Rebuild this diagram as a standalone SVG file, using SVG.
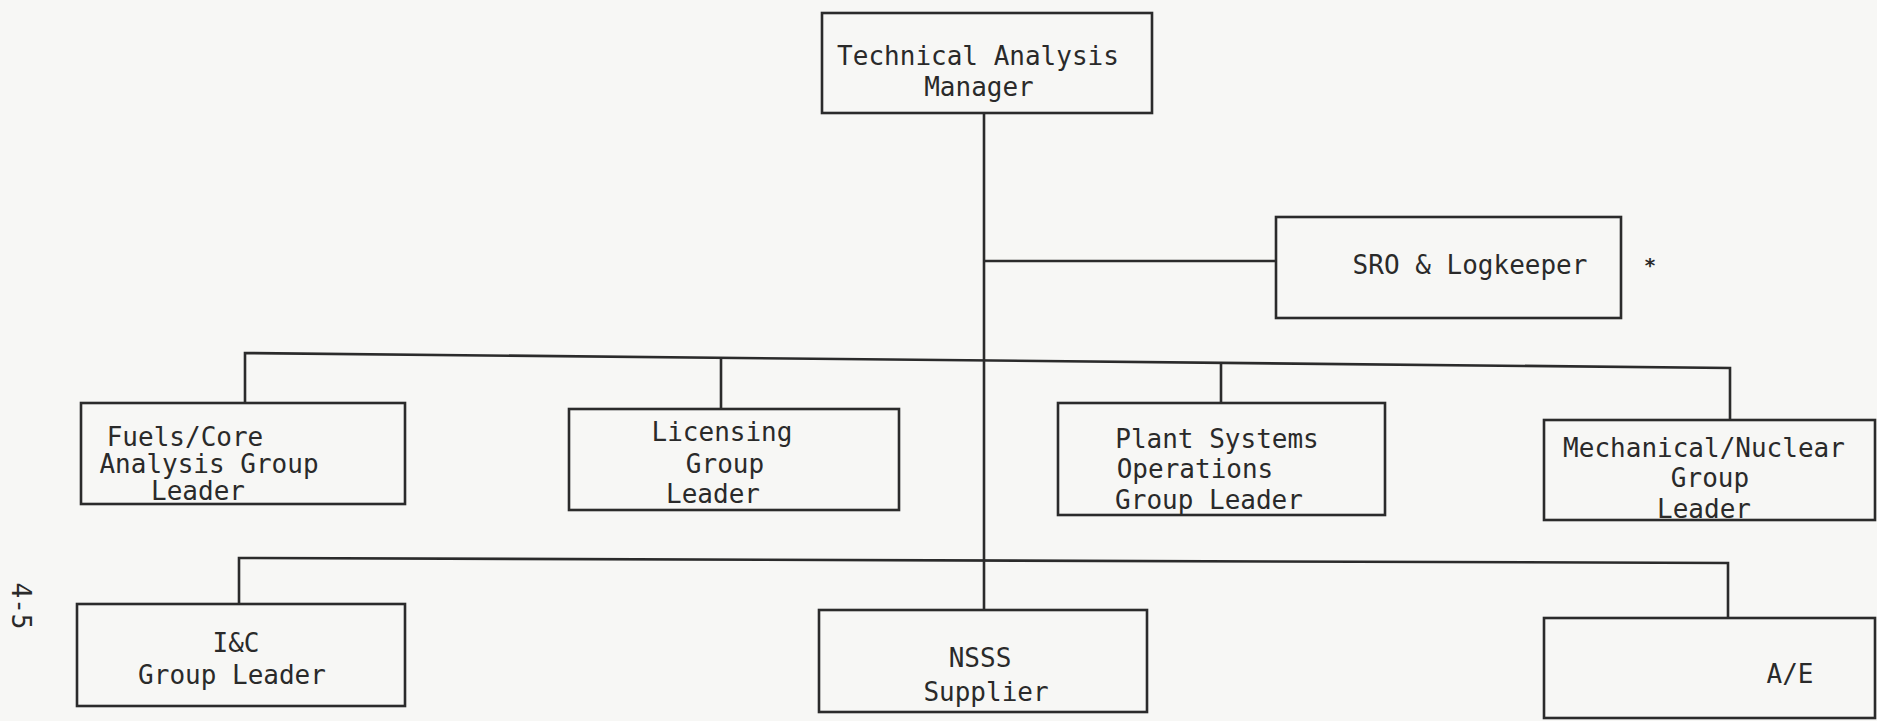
<svg xmlns="http://www.w3.org/2000/svg" width="1877" height="721" viewBox="0 0 1877 721">
<style>
.box{fill:none;stroke:#2b2b2b;stroke-width:2.6}
.ln{fill:none;stroke:#2b2b2b;stroke-width:2.6}
text{font-family:"DejaVu Sans Mono","Liberation Mono",monospace;font-size:26px;fill:#2a2a2a;text-anchor:middle}
</style>
<rect width="1877" height="721" fill="#f7f7f5"/>
<g id="connectors">
<path class="ln" d="M984,114 V610"/>
<path class="ln" d="M984,261 H1276"/>
<path class="ln" d="M245,403 V353 L1730,368 V420"/>
<path class="ln" d="M721,358 V409"/>
<path class="ln" d="M1221,363 V403"/>
<path class="ln" d="M239,604 V558 L1728,563 V618"/>
</g>
<g id="manager">
<rect class="box" x="822" y="13" width="330" height="100"/>
<text x="978" y="65">Technical Analysis</text>
<text x="979" y="96">Manager</text>
</g>
<g id="sro">
<rect class="box" x="1276" y="217" width="345" height="101"/>
<text x="1470" y="274">SRO &amp; Logkeeper</text>
<text x="1650" y="272" style="font-size:20px;font-weight:bold">*</text>
</g>
<g id="fuels">
<rect class="box" x="81" y="403" width="324" height="101"/>
<text x="185" y="446">Fuels/Core</text>
<text x="209" y="473">Analysis Group</text>
<text x="198" y="500">Leader</text>
</g>
<g id="licensing">
<rect class="box" x="569" y="409" width="330" height="101"/>
<text x="722" y="441">Licensing</text>
<text x="725" y="473">Group</text>
<text x="713" y="503">Leader</text>
</g>
<g id="plant">
<rect class="box" x="1058" y="403" width="327" height="112"/>
<text x="1217" y="448">Plant Systems</text>
<text x="1195" y="478">Operations</text>
<text x="1209" y="509">Group Leader</text>
</g>
<g id="mech">
<rect class="box" x="1544" y="420" width="331" height="100"/>
<text x="1704" y="457">Mechanical/Nuclear</text>
<text x="1710" y="487">Group</text>
<text x="1704" y="518">Leader</text>
</g>
<g id="ic">
<rect class="box" x="77" y="604" width="328" height="102"/>
<text x="236" y="652">I&amp;C</text>
<text x="232" y="684">Group Leader</text>
</g>
<g id="nsss">
<rect class="box" x="819" y="610" width="328" height="102"/>
<text x="980" y="667">NSSS</text>
<text x="986" y="701">Supplier</text>
</g>
<g id="ae">
<rect class="box" x="1544" y="618" width="331" height="100"/>
<text x="1790" y="683">A/E</text>
</g>
<text transform="translate(12,606) rotate(90)" x="0" y="0">4-5</text>
</svg>
